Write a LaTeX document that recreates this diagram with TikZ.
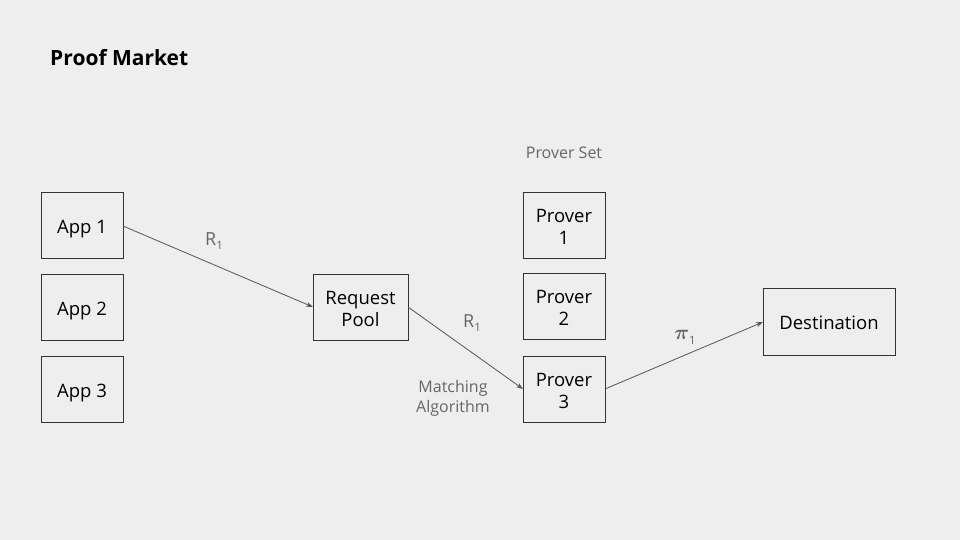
\documentclass[tikz,border=0pt]{standalone}
\usepackage{fontspec}
\setmainfont{Open Sans}
\usetikzlibrary{arrows.meta}
\definecolor{bg}{HTML}{EEEEEE}
\definecolor{edge}{HTML}{333333}
\definecolor{arr}{HTML}{555555}
\definecolor{lbl}{HTML}{666666}
\tikzset{
  boxnode/.style={draw=edge, line width=0.8pt, fill=none, align=center, inner sep=0pt,
    font=\fontsize{18.5}{22}\selectfont, text=black},
  conn/.style={draw=arr, line width=0.8pt, -{Stealth[length=7pt,width=5pt]}},
  greylbl/.style={text=lbl, font=\fontsize{16}{20}\selectfont, align=center, inner sep=0pt}
}
\newcommand{\subone}{\raisebox{-0.45ex}{\fontsize{11.5}{11.5}\selectfont 1}}
\newcommand{\onel}[2][-4pt]{\raisebox{#1}[\height][\depth]{#2}}
\newcommand{\twol}[2]{\raisebox{-4pt}[\height][\depth]{\begin{tabular}{@{}c@{}}#1\\#2\end{tabular}}}
\begin{document}
\begin{tikzpicture}[x=1pt,y=-1pt]
\fill[bg] (0,0) rectangle (960,540);
\useasboundingbox (0,0) rectangle (960,540);
\node[anchor=west, font=\fontsize{21}{25}\selectfont\bfseries, inner sep=0pt, text=black] (title) at (50,58) {Proof Market};
\node[boxnode, minimum width=82pt, minimum height=66pt] (app1) at (82,225) {\onel{App 1}};
\node[boxnode, minimum width=82pt, minimum height=66pt] (app2) at (82,307) {\onel{App 2}};
\node[boxnode, minimum width=82pt, minimum height=66pt] (app3) at (82,389) {\onel{App 3}};
\node[boxnode, minimum width=95pt, minimum height=66pt] (pool) at (360.5,307) {\twol{Request}{Pool}};
\node[greylbl] (pset) at (564,152.5) {Prover Set};
\node[boxnode, minimum width=82pt, minimum height=66pt] (p1) at (564,225) {\twol{Prover}{1}};
\node[boxnode, minimum width=82pt, minimum height=66pt] (p2) at (564,306) {\twol{Prover}{2}};
\node[boxnode, minimum width=82pt, minimum height=66pt] (p3) at (564,389) {\twol{Prover}{3}};
\node[boxnode, minimum width=132pt, minimum height=67pt] (dest) at (829,321.5) {\onel[-1.5pt]{Destination}};
\coordinate (a1) at (123,226);
\coordinate (pl) at (313,307);
\coordinate (pr) at (408,307);
\coordinate (p3l) at (523,389);
\coordinate (p3r) at (605,389);
\coordinate (dl) at (763,322);
\draw[conn] (a1) -- (pl);
\draw[conn] (pr) -- (p3l);
\draw[conn] (p3r) -- (dl);
\node[greylbl, font=\fontsize{18}{20}\selectfont] (r1a) at (214,241) {R\subone};
\node[greylbl, font=\fontsize{18}{20}\selectfont] (r1b) at (472,323) {R\subone};
\node[greylbl, font=\fontsize{20}{20}\selectfont] (pi1) at (685,337) {{\boldmath$\pi$}\subone};
\node[greylbl] (match) at (453,398.5) {Matching\\Algorithm};
\end{tikzpicture}
\end{document}
